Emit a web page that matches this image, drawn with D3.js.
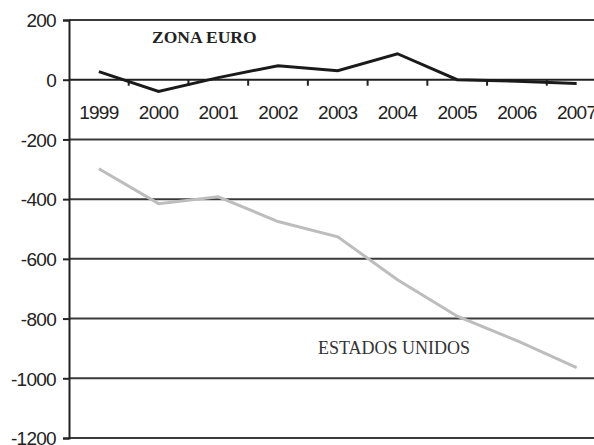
<!DOCTYPE html>
<html>
<head>
<meta charset="utf-8">
<script src="https://cdn.jsdelivr.net/npm/d3@7"></script>
<style>
  body { margin: 0; background: #fff; }
  svg { display: block; }
  .tick-label { font-family: "Liberation Sans", Arial, sans-serif; font-size: 19px; fill: #222; letter-spacing: -0.7px; }
</style>
</head>
<body>
<svg width="594" height="445"></svg>
<script>
// data
var years = ["1999", "2000", "2001", "2002", "2003", "2004", "2005", "2006", "2007"]
var zonaEuro = [27, -39, 7, 47, 30, 87, 0, -5, -13]
var estadosUnidos = [-298, -415, -392, -475, -526, -670, -792, -874, -964]
var yTicks = [200, 0, -200, -400, -600, -800, -1000, -1200]

var svg = d3.select("svg")

// plot runs off the right edge like the original
var x = d3.scaleBand().domain(years).range([69, 606.5]).padding(0)
var y = d3.scaleLinear().domain([-1200, 200]).range([438, 20])
var cx = function(d) { return x(d) + x.bandwidth() / 2 }

// horizontal gridlines
svg.append("g")
	.selectAll("line")
	.data(yTicks.filter(function(d) { return d !== 0 }))
	.enter().append("line")
		.attr("x1", 69)
		.attr("x2", 606)
		.attr("y1", function(d) { return y(d) })
		.attr("y2", function(d) { return y(d) })
		.attr("stroke", "#3a3a3a")
		.attr("stroke-width", 2)

// y axis with labels (plain hyphen for the minus sign)
var yAxis = svg.append("g")
	.attr("transform", "translate(69,0)")
	.call(d3.axisLeft(y).tickValues(yTicks).tickSize(6).tickPadding(7).tickFormat(function(d) { return String(d) }))
yAxis.select(".domain").attr("stroke", "#222").attr("stroke-width", 2)
yAxis.selectAll(".tick line").attr("stroke", "#222").attr("stroke-width", 2)
yAxis.selectAll("text").attr("class", "tick-label").attr("font-size", null).attr("font-family", null)
	.attr("dy", "0.36em")

// x axis sitting on zero, ticks between the years
var xAxis = svg.append("g")
	.attr("transform", "translate(0," + y(0) + ")")
xAxis.append("line")
	.attr("x1", 69).attr("x2", 606)
	.attr("stroke", "#222").attr("stroke-width", 2)
xAxis.selectAll(".xtick")
	.data(years.slice(1))
	.enter().append("line")
		.attr("class", "xtick")
		.attr("x1", function(d) { return x(d) })
		.attr("x2", function(d) { return x(d) })
		.attr("y1", 0).attr("y2", 6)
		.attr("stroke", "#222").attr("stroke-width", 2)
xAxis.selectAll(".xlabel")
	.data(years)
	.enter().append("text")
		.attr("class", "tick-label")
		.attr("x", cx)
		.attr("y", 39)
		.attr("text-anchor", "middle")
		.text(function(d) { return d })

var line = d3.line()
	.x(function(d, i) { return cx(years[i]) })
	.y(function(d) { return y(d) })

svg.append("path")
	.datum(estadosUnidos)
	.attr("fill", "none")
	.attr("stroke", "#bdbdbd")
	.attr("stroke-width", 3)
	.attr("d", line)

svg.append("path")
	.datum(zonaEuro)
	.attr("fill", "none")
	.attr("stroke", "#1a1a1a")
	.attr("stroke-width", 3)
	.attr("d", line)

// series names
svg.append("text")
	.attr("x", 152)
	.attr("y", 43)
	.attr("font-family", "Liberation Serif, Times New Roman, serif")
	.attr("font-weight", "bold")
	.attr("font-size", 17.5)
	.attr("fill", "#222")
	.text("ZONA EURO")

svg.append("text")
	.attr("x", 318)
	.attr("y", 354)
	.attr("font-family", "Liberation Serif, Times New Roman, serif")
	.attr("font-size", 18)
	.attr("fill", "#333")
	.text("ESTADOS UNIDOS")
</script>
</body>
</html>
